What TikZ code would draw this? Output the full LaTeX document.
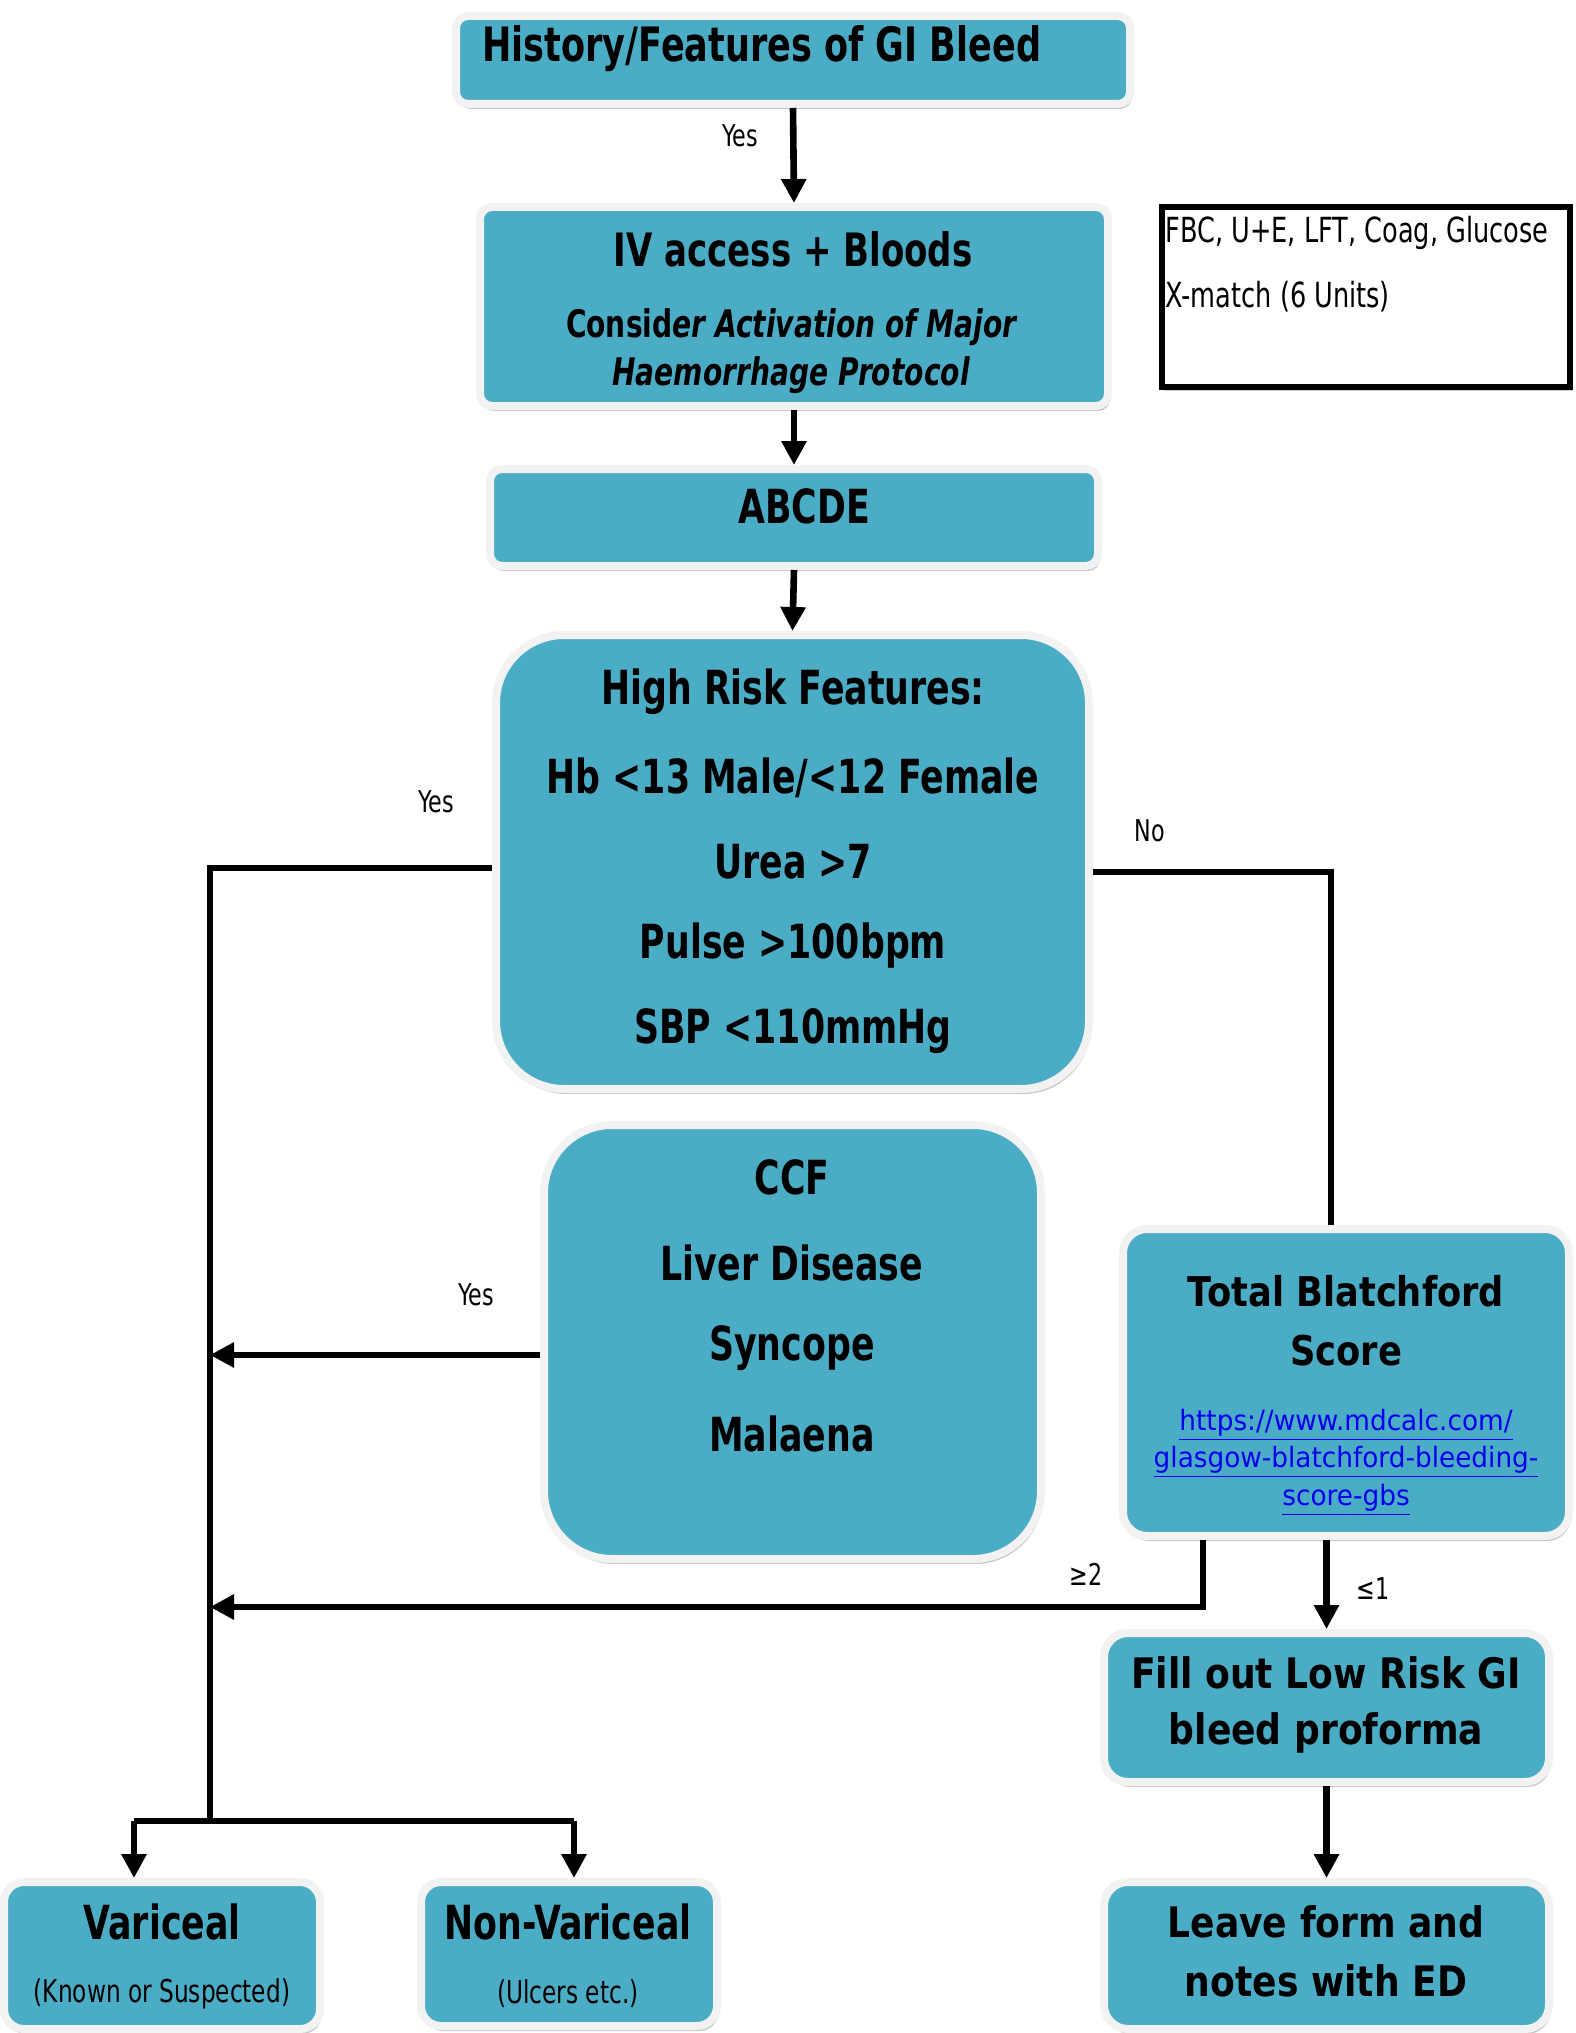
\documentclass[tikz,border=0pt]{standalone}
\usepackage{fontspec}
\setmainfont{DejaVu Sans}
\newfontfamily\cnd[FakeStretch=0.74]{DejaVu Sans}
\newfontfamily\wid[FakeStretch=0.86]{DejaVu Sans}
\newfontfamily\lnk[FakeStretch=0.94]{DejaVu Sans}
\usetikzlibrary{arrows.meta,shadows}
\definecolor{boxblue}{HTML}{4BACC6}
\definecolor{rimgray}{HTML}{F2F2F2}
\definecolor{linkblue}{HTML}{0000EE}
\begin{document}
\begin{tikzpicture}[x=0.5pt,y=-0.5pt,
  box/.style={draw=rimgray, line width=4pt, fill=boxblue, rounded corners=#1, inner sep=0pt,
    drop shadow={shadow xshift=1pt, shadow yshift=-2.5pt, opacity=0.22, fill=black}},
  box/.default=6pt,
  txt/.style={inner sep=0pt, text=black, align=center},
  conn/.style={line width=3.3pt, line join=miter, -{Triangle[width=12pt,length=12pt]}},
  wire/.style={line width=3.3pt, line join=miter},
  lbl/.style={inner sep=0pt, font=\cnd\fontsize{15}{18}\selectfont}
]
\useasboundingbox (0,0) rectangle (1575,2033);

% boxes
\node[box, minimum width=337pt, minimum height=44pt] (b1) at (793,60) {};
\node[box, minimum width=314pt, minimum height=99.5pt] (b2) at (794,306.5) {};
\node[draw=black, line width=3.2pt, fill=white, minimum width=204pt, minimum height=90pt, inner sep=0pt,
  drop shadow={shadow xshift=1pt, shadow yshift=-2pt, opacity=0.2, fill=black}] (fbc) at (1366,297) {};
\node[box, minimum width=304pt, minimum height=48.5pt] (b3) at (794,517.5) {};
\node[box=34pt, minimum width=296.5pt, minimum height=227pt] (b4) at (792.5,862) {};
\node[box=34pt, minimum width=248.5pt, minimum height=217pt] (b5) at (792.5,1342) {};
\node[box=12pt, minimum width=223pt, minimum height=153.5pt] (b6) at (1346,1382.5) {};
\node[box=12pt, minimum width=222.5pt, minimum height=74.5pt] (b7) at (1326.5,1707.5) {};
\node[box=12pt, minimum width=222.5pt, minimum height=73.5pt] (b8) at (1326.5,1955.5) {};
\node[box=10pt, minimum width=158pt, minimum height=73.5pt] (b9) at (162,1955.5) {};
\node[box=10pt, minimum width=148pt, minimum height=72pt] (b10) at (569,1954) {};

% texts
\node[txt, anchor=west] (t1) at (482,49) {\cnd\bfseries\fontsize{23.7}{28}\selectfont History/Features of GI Bleed};
\node[txt] (t2) at (793,249) {\cnd\bfseries\fontsize{23}{27}\selectfont IV access + Bloods};
\node[txt] (t2b) at (792,327) {\cnd\bfseries\fontsize{19}{23}\selectfont Consid\textit{er Activation of Major}};
\node[txt] (t2c) at (791,375) {\cnd\bfseries\itshape\fontsize{19}{23}\selectfont Haemorrhage Protocol};
\node[txt, anchor=west] (f1) at (1165,233) {\cnd\fontsize{17.3}{20}\selectfont FBC, U+E, LFT, Coag, Glucose};
\node[txt, anchor=west] (f2) at (1165,297) {\cnd\fontsize{17.3}{20}\selectfont X-match (6 Units)};
\node[txt] (t3) at (804,506) {\cnd\bfseries\fontsize{23.5}{27}\selectfont ABCDE};
\node[txt] (h1) at (793,692) {\cnd\bfseries\fontsize{23.5}{27}\selectfont High Risk Features:};
\node[txt] (h2) at (793,778) {\cnd\bfseries\fontsize{23.5}{27}\selectfont Hb <13 Male/<12 Female};
\node[txt] (h3) at (793,862) {\cnd\bfseries\fontsize{23.5}{27}\selectfont Urea >7};
\node[txt] (h4) at (793,946) {\cnd\bfseries\fontsize{23.5}{27}\selectfont Pulse >100bpm};
\node[txt] (h5) at (793,1031) {\cnd\bfseries\fontsize{23.5}{27}\selectfont SBP <110mmHg};
\node[txt] (c1) at (792,1177) {\cnd\bfseries\fontsize{23.5}{27}\selectfont CCF};
\node[txt] (c2) at (792,1263) {\cnd\bfseries\fontsize{23.5}{27}\selectfont Liver Disease};
\node[txt] (c3) at (792,1348) {\cnd\bfseries\fontsize{23.5}{27}\selectfont Syncope};
\node[txt] (c4) at (792,1434) {\cnd\bfseries\fontsize{23.5}{27}\selectfont Malaena};
\node[txt] (s1) at (1346,1291) {\wid\bfseries\fontsize{20.5}{25}\selectfont Total Blatchford};
\node[txt] (s2) at (1346,1351) {\wid\bfseries\fontsize{20.5}{25}\selectfont Score};
\node[txt, text=linkblue] (u1) at (1346,1425) {\lnk\fontsize{14}{17}\selectfont \underline{https://www.mdcalc.com/}};
\node[txt, text=linkblue] (u2) at (1346,1462) {\lnk\fontsize{14}{17}\selectfont \underline{glasgow-blatchford-bleeding-}};
\node[txt, text=linkblue] (u3) at (1346,1500) {\lnk\fontsize{14}{17}\selectfont \underline{score-gbs}};
\node[txt] (l1) at (1326,1673) {\wid\bfseries\fontsize{21}{25}\selectfont Fill out Low Risk GI};
\node[txt] (l2) at (1326,1733) {\wid\bfseries\fontsize{21}{25}\selectfont bleed proforma};
\node[txt] (e1) at (1326,1922) {\wid\bfseries\fontsize{21}{25}\selectfont Leave form and};
\node[txt] (e2) at (1326,1981) {\wid\bfseries\fontsize{21}{25}\selectfont notes with ED};
\node[txt] (v1) at (162,1922) {\cnd\bfseries\fontsize{23.5}{27}\selectfont Variceal};
\node[txt] (v2) at (162,1994) {\cnd\fontsize{15.7}{19}\selectfont (Known or Suspected)};
\node[txt] (n1) at (568,1922) {\cnd\bfseries\fontsize{23.5}{27}\selectfont Non-Variceal};
\node[txt] (n2) at (568,1994) {\cnd\fontsize{15.7}{19}\selectfont (Ulcers etc.)};

% labels
\node[lbl] (y1) at (740,136) {Yes};
\node[lbl] (y2) at (436,802) {Yes};
\node[lbl] (no) at (1150,831) {No};
\node[lbl] (y3) at (476,1295) {Yes};
\node[lbl] (ge) at (1086,1574) {≥2};
\node[lbl] (le) at (1373,1589) {≤1};

% junction coordinates
\coordinate (trTop) at (210,868);
\coordinate (trBot) at (210,1821);
\coordinate (jc) at (210,1355);
\coordinate (jg) at (210,1607);
\coordinate (nr) at (1331,872);
\coordinate (gs) at (1203,1607);
\coordinate (bl) at (134,1821);
\coordinate (br) at (574,1821);

% connectors
\draw[conn] (b1.south) -- (b2.north);
\draw[conn] (b2.south) -- (b3.north);
\draw[conn] (b3.south) -- (b4.north);
\draw[wire] (b4.west |- trTop) -- (trTop) -- (trBot);
\draw[wire] (b4.east |- nr) -- (nr) -- (nr |- b6.north);
\draw[conn] (b5.west |- jc) -- (jc);
\draw[conn] (gs |- b6.south) -- (gs) -- (jg);
\draw[conn] (b7.north |- b6.south) -- (b7.north);
\draw[conn] (b7.south) -- (b8.north);
\draw[wire] (bl) -- (br);
\draw[conn] (bl) -- (bl |- b9.north);
\draw[conn] (br) -- (br |- b10.north);
\end{tikzpicture}
\end{document}
